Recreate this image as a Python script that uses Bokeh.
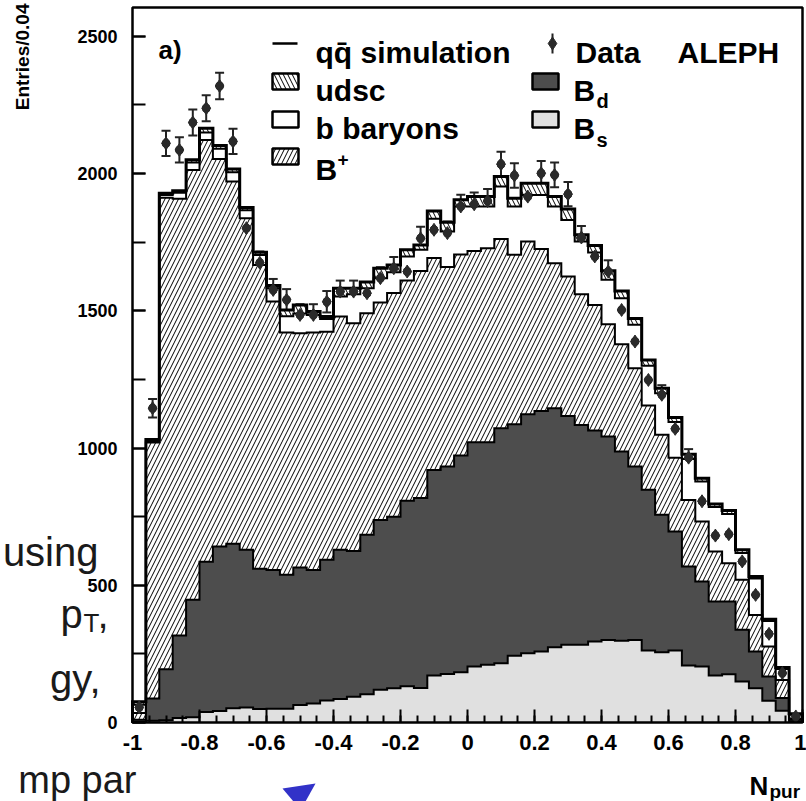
import numpy as np
from math import pi
from bokeh.plotting import figure
from bokeh.models import (Range1d, FixedTicker, Label, Whisker, ColumnDataSource,
                          TeeHead, PolyAnnotation)
from bokeh.embed import file_html
from bokeh.resources import INLINE

# ---------------- data (N_pur, 50 bins of width 0.04 from -1 to 1) ----------------
bin_width = 0.04
bin_lo = np.round(np.linspace(-1.0, 0.96, 50), 2)

bs = [2, 6, 8, 16, 19, 38, 42, 52, 55, 49,
      50, 50, 64, 69, 80, 86, 94, 103, 119, 125,
      132, 126, 171, 177, 183, 204, 210, 216, 243, 252,
      259, 274, 283, 283, 295, 301, 298, 301, 262, 256,
      262, 208, 204, 171, 176, 149, 125, 79, 43, 3]
bd = [8, 81, 186, 301, 428, 548, 599, 599, 574, 511,
      506, 488, 501, 487, 513, 543, 531, 581, 619, 625,
      676, 692, 749, 756, 790, 817, 811, 856, 844, 871,
      876, 871, 834, 801, 769, 741, 689, 632, 586, 501,
      434, 360, 310, 270, 265, 189, 134, 89, 46, 7]
bplus = [25, 933, 1718, 1591, 1566, 1536, 1412, 1320, 1208, 1107,
         978, 883, 853, 865, 831, 850, 830, 807, 792, 815,
         802, 827, 772, 727, 732, 697, 707, 690, 617, 629,
         590, 528, 508, 476, 457, 409, 391, 358, 307, 291,
         269, 243, 218, 182, 139, 182, 133, 109, 66, 5]
bbaryons = [30, 5, 10, 22, 27, 28, 37, 34, 29, 36,
            48, 59, 72, 64, 46, 73, 105, 91, 89, 75,
            88, 77, 143, 129, 175, 162, 152, 191, 176, 170,
            197, 207, 206, 192, 191, 162, 168, 158, 145, 152,
            130, 149, 146, 162, 180, 98, 133, 93, 40, 13]
udsc = [11, 6, 6, 7, 10, 15, 12, 12, 10, 10,
        10, 23, 31, 12, 9, 30, 22, 23, 36, 27,
        24, 18, 29, 34, 25, 36, 36, 36, 30, 43,
        43, 36, 40, 25, 26, 33, 26, 23, 21, 18,
        16, 17, 12, 11, 12, 11, 7, 6, 5, 4]
data = [55, 1145, 2110, 2086, 2186, 2238, 2319, 2117, 1801, 1675,
        1576, 1540, 1485, 1485, 1533, 1570, 1570, 1564, 1619, 1655,
        1643, 1764, 1795, 1783, 1880, 1888, 1900, 2034, 1993, 1916,
        2001, 1995, 1925, 1767, 1698, 1643, 1503, 1388, 1248, 1194,
        1070, 965, 806, 681, 686, 587, 465, 323, 180, 22]
data_err = [7, 34, 46, 46, 47, 47, 48, 46, 42, 41,
            40, 39, 39, 39, 39, 40, 40, 40, 40, 41,
            41, 42, 42, 42, 43, 43, 44, 45, 45, 44,
            45, 45, 44, 42, 41, 41, 39, 37, 35, 35,
            33, 31, 28, 26, 26, 24, 22, 18, 13, 5]

x_ticks = [-1, -0.8, -0.6, -0.4, -0.2, 0, 0.2, 0.4, 0.6, 0.8, 1]
x_tick_labels = ["-1", "-0.8", "-0.6", "-0.4", "-0.2", "0", "0.2", "0.4", "0.6", "0.8", "1"]
y_ticks = [0, 500, 1000, 1500, 2000, 2500]
y_tick_labels = ["0", "500", "1000", "1500", "2000", "2500"]
YTOP = 2605   # top of the plotted frame

# ---------------- geometry: the frame covers the whole canvas ----------------
FONT = "Liberation Sans"
W, H = 806, 801
PL, PR, PT, PB = 132, 802, 7, 722          # plot-area box in canvas pixels
sx = (PR - PL) / 2.0                        # px per x unit
sy = (PB - PT) / YTOP                       # px per y unit
x0, x1 = -1 - PL / sx, 1 + (W - PR) / sx
y0, y1 = -(H - PB) / sy, PB / sy

p = figure(width=W, height=H, x_range=Range1d(x0, x1), y_range=Range1d(y0, y1),
           output_backend="svg", toolbar_location=None, title=None,
           min_border=0, min_border_left=0, min_border_right=0,
           min_border_top=0, min_border_bottom=0)
p.grid.visible = False
p.background_fill_color = "white"
p.border_fill_color = "white"
p.outline_line_color = None


def X(px):
    return -1 + (px - PL) / sx


def Y(py):
    return (PB - py) / sy


# stacked histogram
c1 = np.array(bs, float)
c2 = c1 + np.array(bd)
c3 = c2 + np.array(bplus)
c4 = c3 + np.array(bbaryons)
c5 = c4 + np.array(udsc)

xx = np.column_stack([bin_lo, bin_lo + bin_width]).ravel()


def dup(a):
    return np.repeat(np.asarray(a, float), 2)


HS = 9
zero = np.zeros_like(xx)
p.varea(x=xx, y1=zero, y2=dup(c1), fill_color="#e0e0e0")
p.varea(x=xx, y1=dup(c1), y2=dup(c2), fill_color="#4d4d4d")
p.varea(x=xx, y1=dup(c2), y2=dup(c3), fill_color="white",
        hatch_pattern="/", hatch_color="black", hatch_scale=HS, hatch_weight=1)
p.varea(x=xx, y1=dup(c3), y2=dup(c4), fill_color="white")
p.varea(x=xx, y1=dup(c4), y2=dup(c5), fill_color="white",
        hatch_pattern="\\", hatch_color="black", hatch_scale=HS, hatch_weight=1)

ox = np.concatenate([[-1.0], xx, [1.0]])
for top, lw in [(c1, 2), (c2, 2), (c3, 2), (c4, 2), (c5, 3)]:
    oy = np.concatenate([[0.0], dup(top), [0.0]])
    p.line(ox, oy, line_color="black", line_width=lw, line_join="miter")

# data points
centers = bin_lo + bin_width / 2
dsrc = ColumnDataSource(dict(x=centers, y=data,
                             lo=np.array(data) - np.array(data_err),
                             hi=np.array(data) + np.array(data_err)))
wh = Whisker(source=dsrc, base="x", lower="lo", upper="hi", dimension="height",
             line_color="#222222", line_width=2,
             upper_head=TeeHead(size=9, line_width=2, line_color="#222222"),
             lower_head=TeeHead(size=9, line_width=2, line_color="#222222"))
p.add_layout(wh)
p.scatter("x", "y", source=dsrc, marker="diamond", size=13,
          fill_color="#2a2a2a", line_color="#2a2a2a")
p.scatter("x", "y", source=dsrc, marker="circle", size=8,
          fill_color="#2a2a2a", line_color="#2a2a2a")

# plot-area frame
p.quad(left=[-1], right=[1], bottom=[0], top=[YTOP], fill_color=None,
       line_color="black", line_width=2.5)

# axes, drawn at fixed locations on the frame edges
p.xaxis.fixed_location = 0
p.yaxis.fixed_location = -1
p.xaxis.ticker = FixedTicker(ticks=x_ticks,
                             minor_ticks=list(np.round(np.arange(-1, 1.001, 0.05), 2)))
p.xaxis.major_label_overrides = {t: s for t, s in zip(x_ticks, x_tick_labels)}
p.yaxis.ticker = FixedTicker(ticks=y_ticks,
                             minor_ticks=list(range(0, 2600, 250)))
p.yaxis.major_label_overrides = {t: s for t, s in zip(y_ticks, y_tick_labels)}
for ax, sz, st in [(p.xaxis, "22px", 12), (p.yaxis, "18px", 15)]:
    ax.axis_line_color = None
    ax.major_tick_in = 13
    ax.major_tick_out = 0
    ax.minor_tick_out = 0
    ax.major_tick_line_width = 2
    ax.minor_tick_line_width = 2
    ax.major_label_text_font = FONT
    ax.major_label_text_font_style = "bold"
    ax.major_label_text_font_size = sz
    ax.major_label_text_color = "black"
    ax.major_label_standoff = st
p.xaxis.minor_tick_in = 7
p.yaxis.minor_tick_in = 13


def lab(px, py, text, size, bold=True, align="left", baseline="alphabetic",
        color="black", angle=0.0):
    p.add_layout(Label(x=X(px), y=Y(py), text=text, text_font=FONT,
                       text_font_size=f"{size}px",
                       text_font_style="bold" if bold else "normal",
                       text_align=align, text_baseline=baseline,
                       text_color=color, angle=angle))


# axis titles
lab(22, 3, "Entries/0.04", 19, align="right", baseline="middle", angle=pi / 2)
lab(749, 785, "N", 26)
lab(769, 791, "pur", 19)

# legend
LF = 30
lab(158, 49, "a)", 26)
p.line([X(272), X(297)], [Y(43), Y(43)], line_color="black", line_width=2.5)
lab(315, 52, "qq\u0304 simulation", LF)
p.segment(x0=[X(552)], y0=[Y(33)], x1=[X(552)], y1=[Y(53)],
          line_color="#222222", line_width=2)
p.scatter([X(552)], [Y(43)], marker="diamond", size=13,
          fill_color="#2a2a2a", line_color="#2a2a2a")
lab(575, 52, "Data", LF)
lab(677, 52, "ALEPH", LF)

box_style = dict(line_color="black", line_width=2.5)
p.quad(left=[X(272)], right=[X(298)], top=[Y(73)], bottom=[Y(89)], fill_color="white",
       hatch_pattern="\\", hatch_color="black", hatch_scale=HS, hatch_weight=1, **box_style)
lab(315, 90, "udsc", LF)
p.quad(left=[X(272)], right=[X(298)], top=[Y(111)], bottom=[Y(127)], fill_color="white",
       **box_style)
lab(315, 128, "b baryons", LF)
p.quad(left=[X(272)], right=[X(298)], top=[Y(148)], bottom=[Y(164)], fill_color="white",
       hatch_pattern="/", hatch_color="black", hatch_scale=HS, hatch_weight=1, **box_style)
lab(315, 169, "B", LF)
lab(337, 159, "+", 19)
p.quad(left=[X(532)], right=[X(558)], top=[Y(73)], bottom=[Y(89)], fill_color="#4d4d4d",
       **box_style)
lab(573, 90, "B", LF)
lab(596, 100, "d", 20)
p.quad(left=[X(532)], right=[X(558)], top=[Y(111)], bottom=[Y(127)], fill_color="#e0e0e0",
       **box_style)
lab(573, 128, "B", LF)
lab(596, 139, "s", 20)

# remnants of the slide behind the picture
slide_col = "#1a1a1a"
lab(98, 551, "using", 40, bold=False, align="right", color=slide_col)
lab(60, 613, "p", 40, bold=False, color=slide_col)
lab(83, 622, "T", 26, bold=False, color=slide_col)
lab(97, 613, ",", 40, bold=False, color=slide_col)
lab(100, 678, "gy,", 40, bold=False, align="right", color=slide_col)
lab(136, 779, "mp par", 38, bold=False, align="right", color=slide_col)
p.add_layout(PolyAnnotation(xs=[X(282), X(315), X(305), X(293)],
                            ys=[Y(788), Y(783), Y(801), Y(801)],
                            fill_color="#3232c8", fill_alpha=1.0, line_color=None))

open("out.html", "w").write(file_html(p, INLINE))
